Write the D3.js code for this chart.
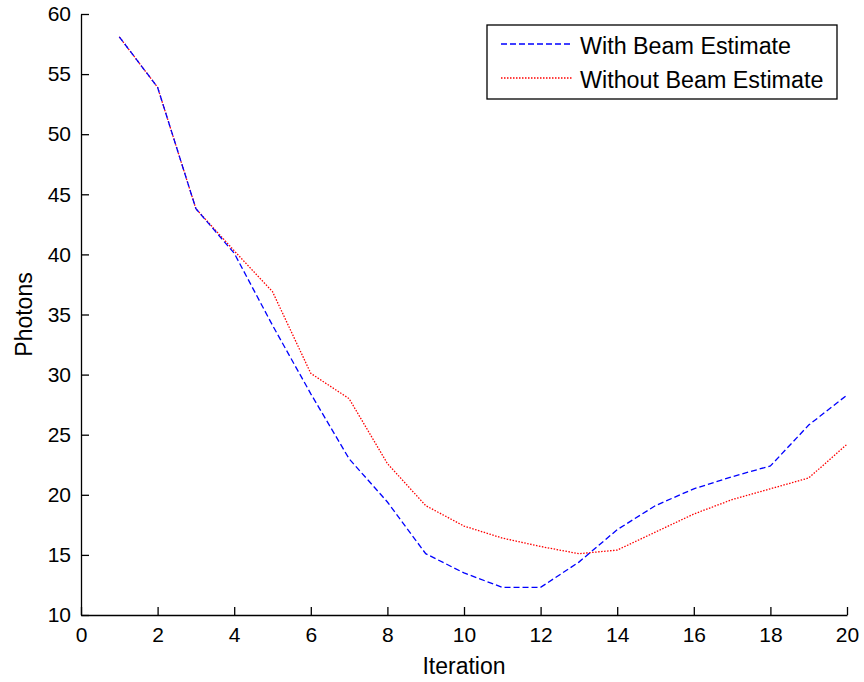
<!DOCTYPE html>
<html>
<head>
<meta charset="utf-8">
<script src="https://cdn.jsdelivr.net/npm/d3@7"></script>
<style>
  body { margin: 0; background: #fff; }
  svg text { font-family: "Liberation Sans", Arial, sans-serif; fill: #000; }
</style>
</head>
<body>
<div id="chart"></div>
<script>
// iterations 1..20
const iterations = [1, 2, 3, 4, 5, 6, 7, 8, 9, 10, 11, 12, 13, 14, 15, 16, 17, 18, 19, 20];
const withBeam = [58.1, 53.9, 43.8, 40.1, 34.1, 28.4, 23.0, 19.4, 15.1, 13.5, 12.3, 12.3, 14.4, 17.1, 19.1, 20.5, 21.5, 22.4, 25.8, 28.3];
const withoutBeam = [58.1, 53.9, 43.8, 40.3, 36.9, 30.1, 28.0, 22.6, 19.1, 17.4, 16.4, 15.7, 15.1, 15.4, 16.9, 18.4, 19.6, 20.5, 21.4, 24.2];
const xTicks = [0, 2, 4, 6, 8, 10, 12, 14, 16, 18, 20];
const yTicks = [10, 15, 20, 25, 30, 35, 40, 45, 50, 55, 60];

const width = 864, height = 682;
const margin = { top: 14, right: 17, bottom: 67, left: 81 };

const svg = d3.select("#chart")
    .append("svg")
    .attr("width", width)
    .attr("height", height);

const x = d3.scaleLinear()
    .domain([0, 20])
    .range([margin.left, width - margin.right]);

const y = d3.scaleLinear()
    .domain([10, 60])
    .range([height - margin.bottom, margin.top]);

// axes, ticks pointing inward like matlab
const xAxis = svg.append("g")
    .attr("transform", `translate(0, ${height - margin.bottom})`)
    .call(d3.axisBottom(x).tickValues(xTicks).tickSizeInner(-8).tickSizeOuter(0).tickPadding(12));

const yAxis = svg.append("g")
    .attr("transform", `translate(${margin.left}, 0)`)
    .call(d3.axisLeft(y).tickValues(yTicks).tickSizeInner(-8).tickSizeOuter(0).tickPadding(10));

[xAxis, yAxis].forEach(g => {
    g.select(".domain").attr("stroke", "#000").attr("stroke-width", 1.3);
    g.selectAll(".tick line").attr("stroke", "#000").attr("stroke-width", 1.3);
    g.selectAll(".tick text").attr("font-size", 21).style("font-family", "Liberation Sans, Arial, sans-serif");
});

const line = d3.line()
    .x((d, i) => x(iterations[i]))
    .y(d => y(d));

svg.append("path")
    .datum(withoutBeam)
    .attr("fill", "none")
    .attr("stroke", "#ff0000")
    .attr("stroke-width", 1.3)
    .attr("stroke-dasharray", "1.5,1.5")
    .attr("d", line);

svg.append("path")
    .datum(withBeam)
    .attr("fill", "none")
    .attr("stroke", "#0000ff")
    .attr("stroke-width", 1.3)
    .attr("stroke-dasharray", "6,3")
    .attr("d", line);

// axis labels
svg.append("text")
    .attr("x", (margin.left + width - margin.right) / 2)
    .attr("y", 674)
    .attr("text-anchor", "middle")
    .attr("font-size", 23)
    .text("Iteration");

svg.append("text")
    .attr("transform", `translate(32, ${(margin.top + height - margin.bottom) / 2}) rotate(-90)`)
    .attr("text-anchor", "middle")
    .attr("font-size", 23)
    .text("Photons");

// legend
const legend = svg.append("g");
legend.append("rect")
    .attr("x", 487).attr("y", 25)
    .attr("width", 350).attr("height", 74)
    .attr("fill", "#fff")
    .attr("stroke", "#000")
    .attr("stroke-width", 1.3);

const legendItems = [
    { label: "With Beam Estimate", color: "#0000ff", dash: "6,3" },
    { label: "Without Beam Estimate", color: "#ff0000", dash: "1.5,1.5" }
];

legendItems.forEach((item, i) => {
    const ly = 44 + i * 34;
    legend.append("line")
        .attr("x1", 501).attr("x2", 573)
        .attr("y1", ly).attr("y2", ly)
        .attr("stroke", item.color)
        .attr("stroke-width", 1.3)
        .attr("stroke-dasharray", item.dash);
    legend.append("text")
        .attr("x", 580).attr("y", ly + 2)
        .attr("dy", "0.35em")
        .attr("font-size", 23.3)
        .text(item.label);
});
</script>
</body>
</html>
